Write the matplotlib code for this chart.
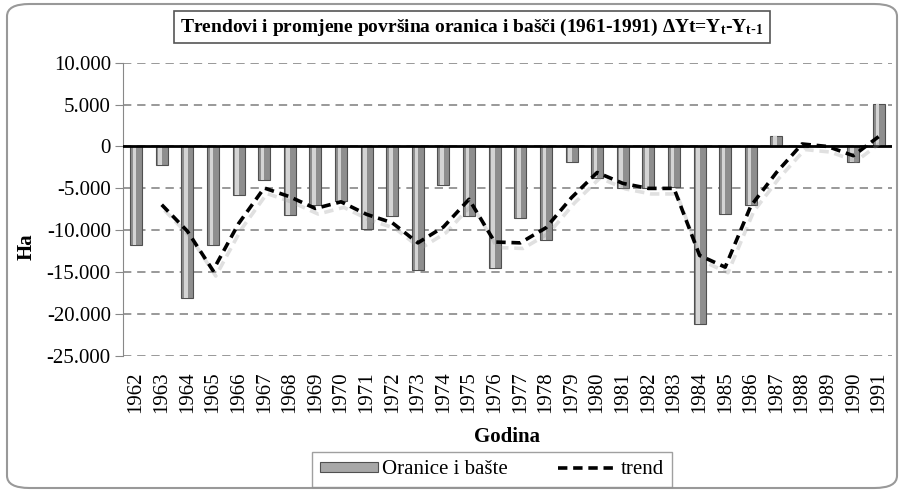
import numpy as np
import matplotlib
matplotlib.use('Agg')
import matplotlib.pyplot as plt
import matplotlib.patheffects as pe
from matplotlib.patches import FancyBboxPatch, Patch
from matplotlib.lines import Line2D
from matplotlib.ticker import FuncFormatter

plt.rcParams.update({
    'font.family': ['Liberation Serif', 'DejaVu Serif'],
    'font.size': 14,
    'mathtext.default': 'regular',
})

years = list(range(1962, 1992))
oranice = [-11700, -2200, -18050, -11700, -5750, -4050, -8200, -7000, -6500, -9900,
           -8300, -14700, -4560, -8300, -14500, -8500, -11100, -1900, -3800, -4950,
           -4950, -4800, -21200, -8000, -7000, 1200, -100, 80, -1900, 5100]
trend = [np.nan, -6950, -10100, -14800, -9200, -4950, -6000, -7400, -6600, -8100,
         -9100, -11500, -9600, -6300, -11400, -11500, -9700, -6100, -3100, -4400,
         -5000, -5000, -13000, -14400, -7100, -3100, 300, 0, -1100, 1200]

fig = plt.figure(figsize=(9.04, 4.92), dpi=100)
ax = fig.add_axes([0.1364, 0.2764, 0.85, 0.5962])

x = np.arange(len(years))
ax.bar(x, oranice, width=0.47, color='#8e8e8e', edgecolor='#505050', linewidth=0.8, zorder=3)
# highlight strip for the cylinder look
ax.bar(x - 0.06, oranice, width=0.14, color='#d4d4d4', linewidth=0, zorder=4)

ax.plot(x, trend, color='black', lw=2.6, ls=(0, (2.6, 1.6)), zorder=5,
        path_effects=[pe.SimpleLineShadow(offset=(2, -4), shadow_color='#999999', alpha=0.3),
                      pe.Normal()])

ax.axhline(0, color='black', lw=2, zorder=4)
ax.set_xlim(-0.5, 29.5)
ax.set_ylim(-25000, 10000)
ax.set_yticks(np.arange(-25000, 10001, 5000))
ax.yaxis.set_major_formatter(FuncFormatter(lambda v, p: f'{int(v):,}'.replace(',', '.')))
ax.grid(axis='y', color='#888888', lw=1.2, ls=(0, (5, 3.5)), zorder=1)
ax.set_xticks(x)
ax.set_xticklabels([str(y) for y in years], rotation=90, fontsize=15)
ax.tick_params(axis='x', length=0, pad=11)
ax.tick_params(axis='y', length=6, color='#888888', labelsize=15, pad=3)
for s in ['top', 'right', 'bottom']:
    ax.spines[s].set_visible(False)
ax.spines['left'].set_color('#888888')

fig.text(0.0300, 1 - 246.7 / 492, 'Ha', rotation=90, ha='center', va='center',
         fontsize=15, fontweight='bold')
fig.text(507 / 904, 1 - 437 / 492, 'Godina', ha='center', va='center',
         fontsize=15, fontweight='bold')

fig.text(472 / 904, 1 - 27 / 492,
         r'Trendovi i promjene površina oranica i bašči (1961-1991) ΔYt=Y$_t$-Y$_{t\text{-}1}$',
         ha='center', va='center', fontsize=14, fontweight='bold',
         bbox=dict(boxstyle='square,pad=0.3', fc='white', ec='#555555', lw=1.2))

handles = [Patch(facecolor='#a8a8a8', edgecolor='#505050', lw=0.8),
           Line2D([], [], color='black', lw=2.6, ls=(0, (2.6, 1.6)))]
leg = fig.legend(handles, ['Oranice i bašte', 'trend'], loc='center', ncol=2,
                 bbox_to_anchor=(492 / 904, 1 - 469.6 / 492), fontsize=15,
                 fancybox=False, edgecolor='#888888', handlelength=2.8,
                 handleheight=0.35, handletextpad=0.2,
                 columnspacing=2.4, borderpad=0.4)
leg.get_frame().set_linewidth(1.0)

fig.patches.append(FancyBboxPatch((7 / 904, 4 / 492), 890 / 904, 484 / 492,
                                  boxstyle='round,pad=0,rounding_size=0.025',
                                  transform=fig.transFigure, fc='none',
                                  ec='#999999', lw=1.5))

fig.savefig('out.png', dpi=100)
